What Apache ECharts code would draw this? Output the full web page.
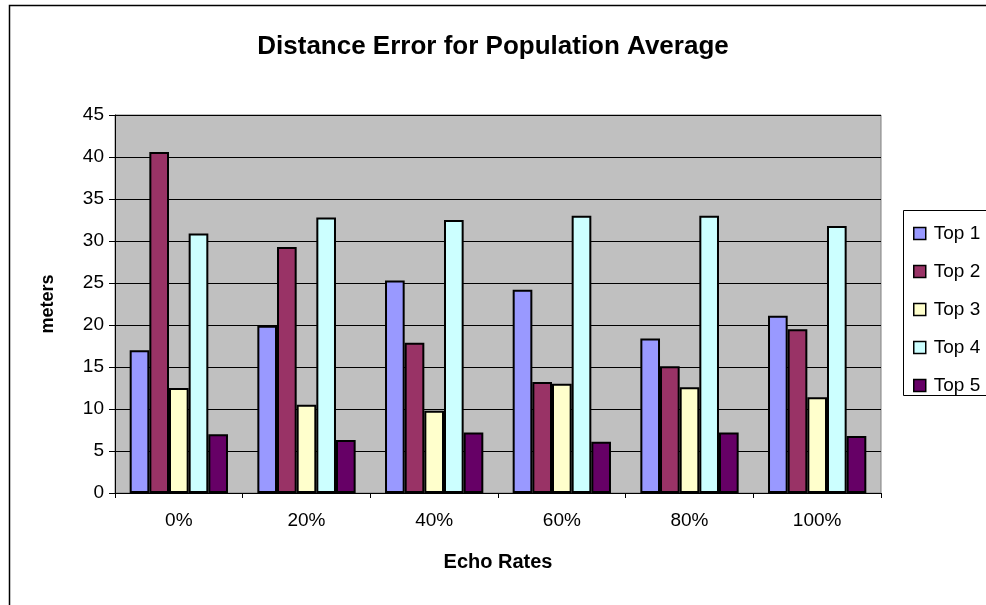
<!DOCTYPE html>
<html>
<head>
<meta charset="utf-8">
<title>Distance Error for Population Average</title>
<script src="https://cdn.jsdelivr.net/npm/echarts@6/dist/echarts.min.js"></script>
<style>
  html, body { margin: 0; padding: 0; background: #fff; }
  #chart { width: 986px; height: 605px; }
</style>
</head>
<body>
<div id="chart"></div>
<script>
// Echo rate categories on the x axis
var categories = ['0%', '20%', '40%', '60%', '80%', '100%'];

// Average distance error (meters) for each ranking
var top1 = [17.0, 19.9, 25.3, 24.2, 18.4, 21.1];
var top2 = [40.6, 29.3, 17.9, 13.2, 15.1, 19.5];
var top3 = [12.5, 10.5, 9.8, 13.0, 12.6, 11.4];
var top4 = [30.9, 32.8, 32.5, 33.0, 33.0, 31.8];
var top5 = [7.0, 6.3, 7.2, 6.1, 7.2, 6.8];

var seriesNames = ['Top 1', 'Top 2', 'Top 3', 'Top 4', 'Top 5'];
var seriesValues = [top1, top2, top3, top4, top5];
var seriesColors = ['#9999FF', '#993366', '#FFFFCC', '#CCFFFF', '#660066'];

var FONT = 'Liberation Sans, Arial, sans-serif';

var chart = echarts.init(document.getElementById('chart'), null, { renderer: 'canvas' });

var series = seriesNames.map(function (name, i) {
  return {
    name: name,
    type: 'bar',
    data: seriesValues[i],
    barGap: '0%',
    barCategoryGap: '23%',
    itemStyle: {
      color: seriesColors[i],
      borderColor: '#000',
      borderWidth: 2
    },
    emphasis: { disabled: true }
  };
});

chart.setOption({
  animation: false,
  backgroundColor: '#fff',
  title: {
    text: 'Distance Error for Population Average',
    left: 'center',
    top: 29,
    textStyle: { fontFamily: FONT, fontSize: 26, fontWeight: 'bold', color: '#000' }
  },
  graphic: [
    {
      type: 'rect',
      shape: { x: 9.5, y: 5.5, width: 1200, height: 1000 },
      style: { fill: 'none', stroke: '#000', lineWidth: 1.5 },
      silent: true,
      z: -10
    },
    {
      type: 'rect',
      shape: { x: 903.5, y: 210.5, width: 200, height: 185 },
      style: { fill: '#fff', stroke: '#000', lineWidth: 1 },
      silent: true,
      z: 0
    }
  ],
  legend: {
    orient: 'vertical',
    left: 908,
    top: 219,
    itemWidth: 12,
    itemHeight: 12,
    itemGap: 19,
    icon: 'rect',
    data: seriesNames.map(function (n, i) {
      return { name: n, itemStyle: { color: seriesColors[i], borderColor: '#000', borderWidth: 1.5 } };
    }),
    textStyle: { fontFamily: FONT, fontSize: 19, color: '#000', lineHeight: 19, padding: [0, 0, 0, 3] },
    selectedMode: false,
    z: 5
  },
  grid: {
    left: 115,
    right: 105,
    top: 115,
    bottom: 112,
    show: true,
    backgroundColor: '#C0C0C0',
    borderColor: '#808080',
    borderWidth: 1
  },
  xAxis: {
    type: 'category',
    data: categories,
    name: 'Echo Rates',
    nameLocation: 'middle',
    nameGap: 59,
    nameTextStyle: { fontFamily: FONT, fontSize: 20, fontWeight: 'bold', color: '#000' },
    axisLine: { lineStyle: { color: '#000', width: 1 } },
    axisTick: { show: true, length: 5, lineStyle: { color: '#000' } },
    axisLabel: { fontFamily: FONT, fontSize: 19, color: '#000', margin: 18 }
  },
  yAxis: {
    type: 'value',
    min: 0,
    max: 45,
    interval: 5,
    name: 'meters',
    nameLocation: 'middle',
    nameGap: 58,
    nameTextStyle: { fontFamily: FONT, fontSize: 18, fontWeight: 'bold', color: '#000' },
    axisLine: { show: true, lineStyle: { color: '#000', width: 1 } },
    axisTick: { show: true, length: 6, lineStyle: { color: '#000' } },
    axisLabel: { fontFamily: FONT, fontSize: 19, color: '#000', margin: 11 },
    splitLine: { show: true, lineStyle: { color: '#000', width: 1 } }
  },
  series: series
});
</script>
</body>
</html>
